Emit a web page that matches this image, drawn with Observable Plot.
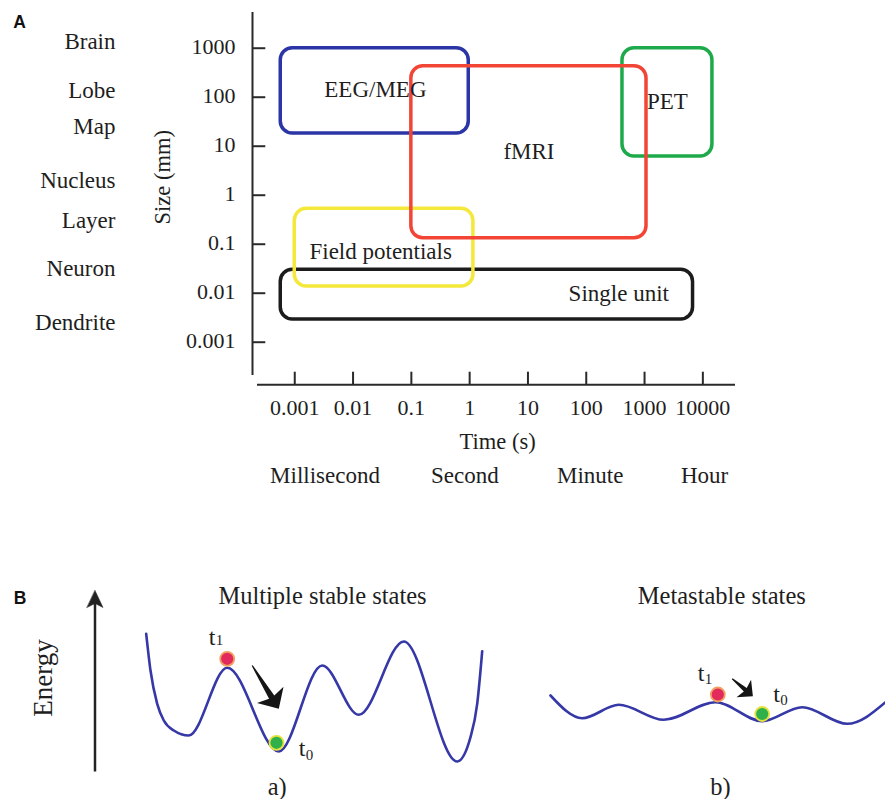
<!DOCTYPE html>
<html>
<head>
<meta charset="utf-8">
<script src="https://cdn.jsdelivr.net/npm/d3@7"></script>
<script src="https://cdn.jsdelivr.net/npm/@observablehq/plot@0.6"></script>
<style>
  html, body { margin: 0; padding: 0; background: #ffffff; }
  #chart { width: 885px; height: 799px; background: #ffffff; overflow: hidden; }
  #chart svg { display: block; }
</style>
</head>
<body>
<div id="chart"></div>
<script>
// ---------------- Panel A data ----------------
const xTicks = [0.001, 0.01, 0.1, 1, 10, 100, 1000, 10000];
const xTickLabels = ["0.001", "0.01", "0.1", "1", "10", "100", "1000", "10000"];
const yTicks = [1000, 100, 10, 1, 0.1, 0.01, 0.001];
const yTickLabels = ["1000", "100", "10", "1", "0.1", "0.01", "0.001"];
const scaleNames = ["Brain", "Lobe", "Map", "Nucleus", "Layer", "Neuron", "Dendrite"];
const scaleSizes = [1352, 139, 25.6, 2.02, 0.309, 0.0319, 0.00249];
const timeNames = ["Millisecond", "Second", "Minute", "Hour"];
const timePos = [0.0033, 0.83, 117, 10700];
const methods = ["Single unit", "Field potentials", "EEG/MEG", "PET", "fMRI"];
const timeMin = [0.000575, 0.001, 0.000575, 418, 0.1];
const timeMax = [6790, 1.16, 0.965, 14600, 1080];
const sizeMin = [0.0029, 0.0137, 18.2, 6.17, 0.1325];
const sizeMax = [0.030, 0.527, 1000, 1000, 429];
const methodColors = ["#1c1c1c", "#f4e83a", "#2b35a6", "#1eaa4a", "#f24536"];
const labelTime = [361, 0.0298, 0.0242, 2470, 10.4];
const labelSize = [0.0097, 0.072, 141.6, 81.7, 7.9];

// ---------------- Panel B data ----------------
const curveAx = [145.7, 150, 156.7, 163.3, 173.3, 188.3, 226.7, 278.3, 321.7, 358.3, 403.3, 456.7, 470, 476.7, 481.7];
const curveAE = [136.7, 100, 66.7, 50, 40, 35, 102.7, 19, 105, 55.7, 129, 9, 33.3, 66.7, 119.3];
const curveBx = [550, 581.7, 618.3, 663.3, 715, 761.7, 801.7, 846.7, 885];
const curveBE = [75, 52.3, 65.7, 50.7, 68.3, 49.3, 63.3, 46.7, 68.3];
const ballX = [226.7, 276, 717.3, 761.7];
const ballE = [111.7, 27.7, 76, 56.5];
const ballFill = ["#e22a5c", "#2fb04a", "#e22a5c", "#2fb04a"];
const ballRim = ["#f2a060", "#e4e23c", "#f2a060", "#e4e23c"];
const tX = [211.5, 301.5, 700.5, 776];
const tE = [133.3, 21.7, 96.7, 76.2];
const subText = ["1", "0", "1", "0"];
const subX = [219, 309, 708, 783.5];
const subE = [130, 15, 91, 70];
const moveX = [251.7, 731.7];
const moveE = [105, 91.7];
const moveLen = [50.8, 27];
const moveAngle = [148.4, 130];
const moveBarb = [22, 16];
const titlesB = ["Multiple stable states", "Metastable states"];
const titlesBx = [322, 721.3];
const titlesBE = [174.4, 174.4];
const subLabels = ["a)", "b)"];
const subLabelsX = [276.7, 720];
const subLabelsE = [-16.5, -16.5];

const serif = "'Liberation Serif', 'Times New Roman', Times, serif";
const sans = "'Liberation Sans', Arial, Helvetica, sans-serif";
const ink = "#1e1e1e";

// ---------------- Panel A ----------------
const rects = methods.map((m, i) => ({
  m, t1: timeMin[i], t2: timeMax[i], s1: sizeMin[i], s2: sizeMax[i],
  c: methodColors[i], lt: labelTime[i], ls: labelSize[i]
}));
const xLo = 10 ** -3.639;   // left end of the time axis
const xHi = 10 ** 4.56;
const yLo = 10 ** -3.869;   // level of the time axis
const yHi = 10 ** 3.729;

const plotA = Plot.plot({
  width: 885,
  height: 570,
  marginLeft: 257,
  marginRight: 150,
  marginTop: 12,
  marginBottom: 185.7,
  x: { type: "log", domain: [xLo, xHi], axis: null },
  y: { type: "log", domain: [yLo, yHi], axis: null },
  color: { type: "identity" },
  style: { fontFamily: serif, fontSize: "22.5px", color: ink, background: "#ffffff", overflow: "visible" },
  marks: [
    // axes lines
    Plot.ruleX([xLo], { dx: -5, insetBottom: 9.3, stroke: "#2a2a2a", strokeWidth: 2 }),
    Plot.ruleY([yLo], { stroke: "#2a2a2a", strokeWidth: 2 }),
    Plot.ruleY(yTicks, { y: d => d, x1: xLo, x2: xLo * 10 ** (13.3 / 58.33), dx: -5, stroke: "#2a2a2a", strokeWidth: 2 }),
    Plot.ruleX(xTicks, { x: d => d, y1: yLo, y2: yLo * 10 ** (12.6 / 49), stroke: "#2a2a2a", strokeWidth: 2 }),
    // tick labels
    Plot.text(xTicks, { x: d => d, y: yLo, dy: 23, text: (d, i) => xTickLabels[i], fontSize: 22, fill: ink }),
    Plot.text(yTicks, { y: d => d, x: xLo, dx: -22, dy: -1.5, text: (d, i) => yTickLabels[i], textAnchor: "end", fontSize: 22, fill: ink }),
    // axis titles
    Plot.text(["Size (mm)"], { x: xLo, dx: -95, y: 10 ** 0.367, text: d => d, rotate: -90, fill: ink }),
    Plot.text(["Time (s)"], { x: 10 ** 0.48, y: yLo, dy: 57, text: d => d, fill: ink }),
    Plot.text(timeNames, { x: (d, i) => timePos[i], y: yLo, dy: 91, text: d => d, fontSize: 23, fill: ink }),
    Plot.text(scaleNames, { x: xLo, dx: -142, y: (d, i) => scaleSizes[i], text: d => d, textAnchor: "end", fontSize: 23, fill: ink }),
    // method boxes
    Plot.rect(rects, { x1: "t1", x2: "t2", y1: "s1", y2: "s2", stroke: "c", fill: "none", strokeWidth: 3.5, rx: 12 }),
    Plot.text(rects, { x: "lt", y: "ls", text: "m", fontSize: 23, fill: ink }),
    // panel tag
    Plot.text(["A"], { frameAnchor: "top-left", dx: -244.3, dy: 10.2, text: d => d, textAnchor: "start", lineAnchor: "middle",
      fontFamily: sans, fontWeight: "bold", fontSize: 17.5, fill: "#111" })
  ]
});

// ---------------- Panel B ----------------
const curves = [
  ...curveAx.map((x, i) => ({ k: "a", x, e: curveAE[i] })),
  ...curveBx.map((x, i) => ({ k: "b", x, e: curveBE[i] }))
];
const balls = ballX.map((x, i) => ({ x, e: ballE[i], f: ballFill[i], s: ballRim[i] }));
const moves = moveX.map((x, i) => ({ x, e: moveE[i], a: moveAngle[i] }));

// swoosh arrow: thin tail widening into a swept-back head
function swoosh(barb) {
  return {
    draw(ctx, l) {
      const s = Math.SQRT1_2 * barb;
      const n = 0.62 * barb;
      const w = 0.14 * barb;
      ctx.moveTo(-0.6, 0);
      ctx.lineTo(0.6, 0);
      ctx.lineTo(w, -l + n);
      ctx.lineTo(s, -l + s * 1.05);
      ctx.lineTo(0, -l);
      ctx.lineTo(-s, -l + s * 1.05);
      ctx.lineTo(-w, -l + n);
      ctx.closePath();
    }
  };
}
const filledHead = {
  draw(ctx, l, r) {
    ctx.moveTo(0, -l);
    ctx.lineTo(r, 0);
    ctx.lineTo(0, -0.24 * l);
    ctx.lineTo(-r, 0);
    ctx.closePath();
  }
};

const plotB = Plot.plot({
  width: 885,
  height: 229,
  marginLeft: 0,
  marginRight: 0,
  marginTop: 0,
  marginBottom: 0,
  x: { domain: [0, 885], axis: null },
  y: { domain: [-29, 200], axis: null },
  color: { type: "identity" },
  style: { fontFamily: serif, fontSize: "24.5px", color: ink, background: "#ffffff", overflow: "visible" },
  marks: [
    // energy axis
    Plot.link([0], { x1: 94.5, y1: -1, x2: 94.5, y2: 170, stroke: "#222", strokeWidth: 2.5 }),
    Plot.vector([0], { x: 94.5, y: 180, length: 17, anchor: "end", r: 8, shape: filledHead, fill: "#222", stroke: "#222", strokeWidth: 0.5 }),
    Plot.text(["Energy"], { x: 43, y: 92.5, text: d => d, rotate: -90, fontSize: 27, fill: ink }),
    // titles
    Plot.text(titlesB, { x: (d, i) => titlesBx[i], y: (d, i) => titlesBE[i], text: d => d, fill: ink }),
    Plot.text(subLabels, { x: (d, i) => subLabelsX[i], y: (d, i) => subLabelsE[i], text: d => d, fill: ink }),
    // energy landscapes
    Plot.line(curves, { x: "x", y: "e", z: "k", curve: "monotone-x", stroke: "#3538a6", strokeWidth: 2.6 }),
    // transitions
    Plot.vector(moves.slice(0, 1), { x: "x", y: "e", length: moveLen[0], rotate: "a", anchor: "start", shape: swoosh(moveBarb[0]), fill: "#151515", stroke: "none" }),
    Plot.vector(moves.slice(1), { x: "x", y: "e", length: moveLen[1], rotate: "a", anchor: "start", shape: swoosh(moveBarb[1]), fill: "#151515", stroke: "none" }),
    // states
    Plot.dot(balls, { x: "x", y: "e", r: 7, fill: "f", stroke: "s", strokeWidth: 1.8 }),
    Plot.text(tX, { x: d => d, y: (d, i) => tE[i], text: () => "t", fontSize: 24, fill: ink }),
    Plot.text(subText, { x: (d, i) => subX[i], y: (d, i) => subE[i], text: d => d, fontSize: 15, fill: ink }),
    // panel tag
    Plot.text(["B"], { frameAnchor: "top-left", dx: 13.3, dy: 27.9, text: d => d, textAnchor: "start", lineAnchor: "middle",
      fontFamily: sans, fontWeight: "bold", fontSize: 17.5, fill: "#111" })
  ]
});

const chart = document.getElementById("chart");
chart.appendChild(plotA);
chart.appendChild(plotB);
</script>
</body>
</html>
